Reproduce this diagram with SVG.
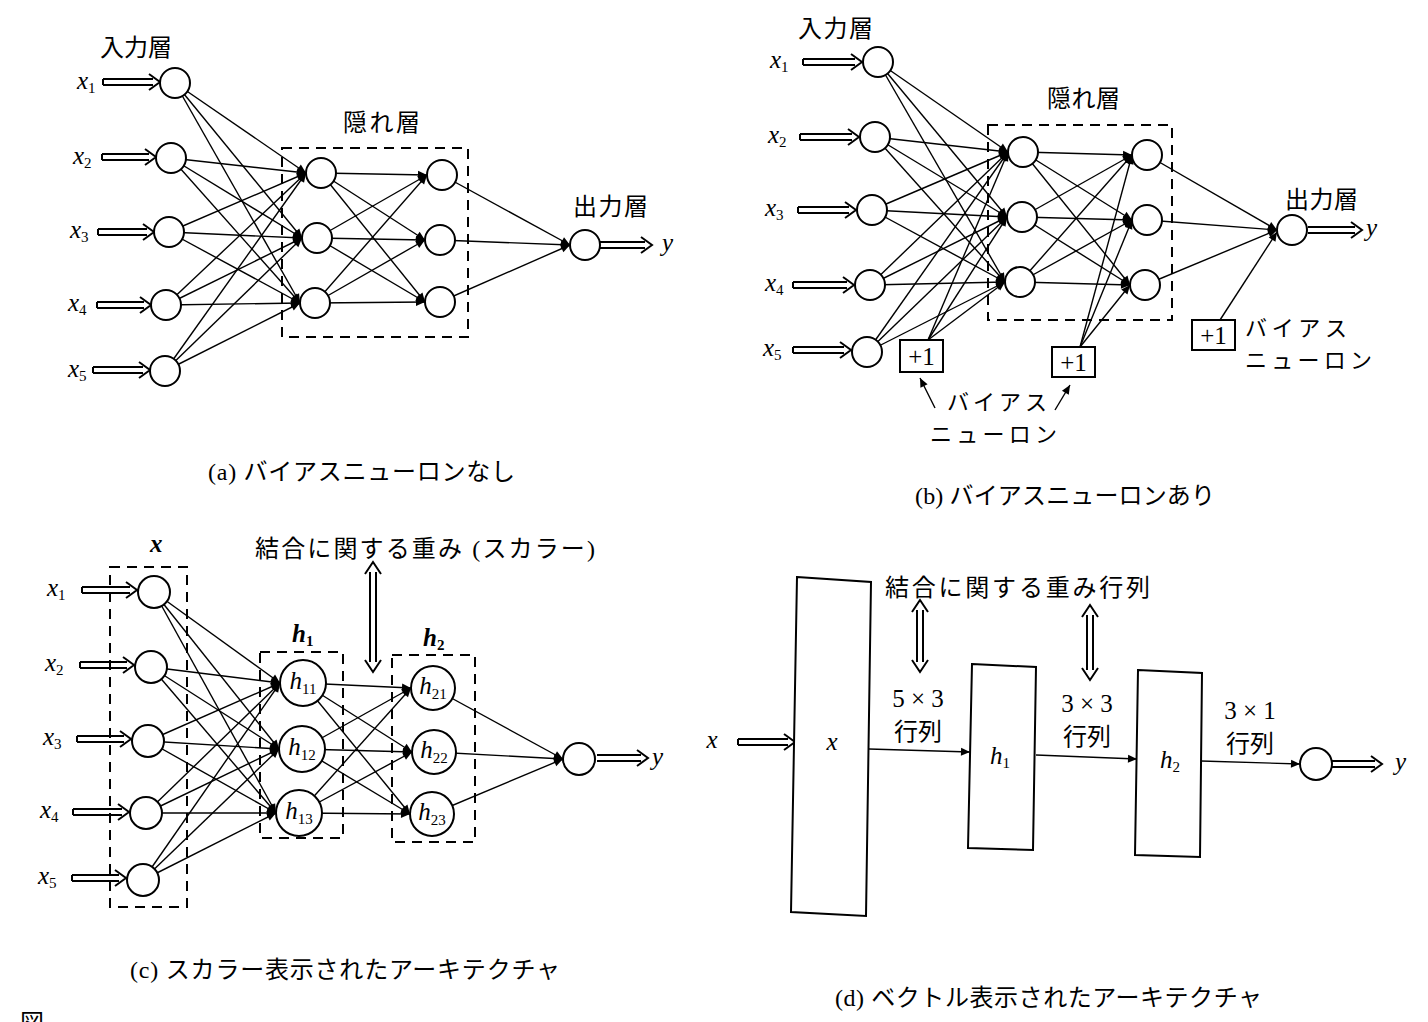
<svg xmlns="http://www.w3.org/2000/svg" width="1428" height="1022" viewBox="0 0 1428 1022">
<defs>
<marker id="ah" markerUnits="userSpaceOnUse" markerWidth="10" markerHeight="8" refX="9" refY="4" orient="auto" overflow="visible"><path d="M0,0 L9,4 L0,8 z" fill="#000"/></marker>
</defs>
<style>
.n{fill:#fff;stroke:#000;stroke-width:2}
.c{stroke:#000;stroke-width:1.4;fill:none;marker-end:url(#ah)}
.dash{fill:none;stroke:#000;stroke-width:2;stroke-dasharray:10 7}
.dbl{fill:none;stroke:#000;stroke-width:2}
.box{fill:#fff;stroke:#000;stroke-width:2}
.jp{font-family:"Noto Sans CJK JP",sans-serif;font-size:24px;fill:#000}
.js{font-family:"Noto Sans CJK JP",sans-serif;font-size:22px;fill:#000}
.m{font-family:"Liberation Serif",serif;font-style:italic;font-size:25px;fill:#000}
.mb{font-family:"Liberation Serif",serif;font-style:italic;font-weight:bold;font-size:25px;fill:#000}
.sub{font-style:normal;font-size:15px}
.num{font-family:"Liberation Serif",serif;font-size:25px;fill:#000}
.cap{font-family:"Liberation Serif","Noto Sans CJK JP",serif;font-size:24px;fill:#000}
</style>
<rect width="1428" height="1022" fill="#fff"/>

<g id="connectors">
<line class="c" x1="175" y1="83" x2="306" y2="173"/><line class="c" x1="175" y1="83" x2="302" y2="238"/><line class="c" x1="175" y1="83" x2="300" y2="303"/>
<line class="c" x1="171" y1="158" x2="306" y2="173"/><line class="c" x1="171" y1="158" x2="302" y2="238"/><line class="c" x1="171" y1="158" x2="300" y2="303"/>
<line class="c" x1="169" y1="232" x2="306" y2="173"/><line class="c" x1="169" y1="232" x2="302" y2="238"/><line class="c" x1="169" y1="232" x2="300" y2="303"/>
<line class="c" x1="166" y1="305" x2="306" y2="173"/><line class="c" x1="166" y1="305" x2="302" y2="238"/><line class="c" x1="166" y1="305" x2="300" y2="303"/>
<line class="c" x1="165" y1="371" x2="306" y2="173"/><line class="c" x1="165" y1="371" x2="302" y2="238"/><line class="c" x1="165" y1="371" x2="300" y2="303"/>
<line class="c" x1="321" y1="173" x2="427" y2="175"/><line class="c" x1="321" y1="173" x2="425" y2="240"/><line class="c" x1="321" y1="173" x2="425" y2="302"/>
<line class="c" x1="317" y1="238" x2="427" y2="175"/><line class="c" x1="317" y1="238" x2="425" y2="240"/><line class="c" x1="317" y1="238" x2="425" y2="302"/>
<line class="c" x1="315" y1="303" x2="427" y2="175"/><line class="c" x1="315" y1="303" x2="425" y2="240"/><line class="c" x1="315" y1="303" x2="425" y2="302"/>
<line class="c" x1="442" y1="175" x2="570" y2="245"/><line class="c" x1="440" y1="240" x2="570" y2="245"/><line class="c" x1="440" y1="302" x2="570" y2="245"/>
<line class="c" x1="878" y1="62" x2="1008" y2="152"/><line class="c" x1="878" y1="62" x2="1007" y2="217"/><line class="c" x1="878" y1="62" x2="1005" y2="282"/>
<line class="c" x1="875" y1="137" x2="1008" y2="152"/><line class="c" x1="875" y1="137" x2="1007" y2="217"/><line class="c" x1="875" y1="137" x2="1005" y2="282"/>
<line class="c" x1="872" y1="210" x2="1008" y2="152"/><line class="c" x1="872" y1="210" x2="1007" y2="217"/><line class="c" x1="872" y1="210" x2="1005" y2="282"/>
<line class="c" x1="870" y1="285" x2="1008" y2="152"/><line class="c" x1="870" y1="285" x2="1007" y2="217"/><line class="c" x1="870" y1="285" x2="1005" y2="282"/>
<line class="c" x1="867" y1="352" x2="1008" y2="152"/><line class="c" x1="867" y1="352" x2="1007" y2="217"/><line class="c" x1="867" y1="352" x2="1005" y2="282"/>
<line class="c" x1="928" y1="340" x2="1008" y2="152"/><line class="c" x1="928" y1="340" x2="1007" y2="217"/><line class="c" x1="928" y1="340" x2="1005" y2="282"/>
<line class="c" x1="1023" y1="152" x2="1132" y2="155"/><line class="c" x1="1023" y1="152" x2="1132" y2="220"/><line class="c" x1="1023" y1="152" x2="1130" y2="285"/>
<line class="c" x1="1022" y1="217" x2="1132" y2="155"/><line class="c" x1="1022" y1="217" x2="1132" y2="220"/><line class="c" x1="1022" y1="217" x2="1130" y2="285"/>
<line class="c" x1="1020" y1="282" x2="1132" y2="155"/><line class="c" x1="1020" y1="282" x2="1132" y2="220"/><line class="c" x1="1020" y1="282" x2="1130" y2="285"/>
<line class="c" x1="1080" y1="347" x2="1132" y2="155"/><line class="c" x1="1080" y1="347" x2="1132" y2="220"/><line class="c" x1="1080" y1="347" x2="1130" y2="285"/>
<line class="c" x1="1147" y1="155" x2="1277" y2="230"/><line class="c" x1="1147" y1="220" x2="1277" y2="230"/><line class="c" x1="1145" y1="285" x2="1277" y2="230"/>
<line class="c" x1="1220" y1="320" x2="1277" y2="232"/>
<line class="c" x1="935" y1="408" x2="920" y2="378"/><line class="c" x1="1055" y1="410" x2="1070" y2="385"/>
<line class="c" x1="154" y1="592" x2="280" y2="683"/><line class="c" x1="154" y1="592" x2="279" y2="749"/><line class="c" x1="154" y1="592" x2="276" y2="813"/>
<line class="c" x1="151" y1="667" x2="280" y2="683"/><line class="c" x1="151" y1="667" x2="279" y2="749"/><line class="c" x1="151" y1="667" x2="276" y2="813"/>
<line class="c" x1="148" y1="741" x2="280" y2="683"/><line class="c" x1="148" y1="741" x2="279" y2="749"/><line class="c" x1="148" y1="741" x2="276" y2="813"/>
<line class="c" x1="146" y1="813" x2="280" y2="683"/><line class="c" x1="146" y1="813" x2="279" y2="749"/><line class="c" x1="146" y1="813" x2="276" y2="813"/>
<line class="c" x1="143" y1="880" x2="280" y2="683"/><line class="c" x1="143" y1="880" x2="279" y2="749"/><line class="c" x1="143" y1="880" x2="276" y2="813"/>
<line class="c" x1="303" y1="683" x2="411" y2="688"/><line class="c" x1="303" y1="683" x2="412" y2="752"/><line class="c" x1="303" y1="683" x2="410" y2="814"/>
<line class="c" x1="302" y1="749" x2="411" y2="688"/><line class="c" x1="302" y1="749" x2="412" y2="752"/><line class="c" x1="302" y1="749" x2="410" y2="814"/>
<line class="c" x1="299" y1="813" x2="411" y2="688"/><line class="c" x1="299" y1="813" x2="412" y2="752"/><line class="c" x1="299" y1="813" x2="410" y2="814"/>
<line class="c" x1="433" y1="688" x2="563" y2="759"/><line class="c" x1="434" y1="752" x2="563" y2="759"/><line class="c" x1="432" y1="814" x2="563" y2="759"/>
<line class="c" x1="869" y1="749" x2="970" y2="752"/>
<line class="c" x1="1036" y1="755" x2="1137" y2="759"/>
<line class="c" x1="1201" y1="761" x2="1300" y2="764"/>
<path class="dbl" d="M103,79H153M103,85H153M103,79V85M149,74L160,82L149,90"/>
<path class="dbl" d="M102,154H149M102,160H149M102,154V160M145,149L156,157L145,165"/>
<path class="dbl" d="M98,229H147M98,235H147M98,229V235M143,224L154,232L143,240"/>
<path class="dbl" d="M97,302H144M97,308H144M97,302V308M140,297L151,305L140,313"/>
<path class="dbl" d="M93,367H143M93,373H143M93,367V373M139,362L150,370L139,378"/>
<path class="dbl" d="M600,242H645M600,248H645M641,237L652,245L641,253"/>
<path class="dbl" d="M803,59H855M803,65H855M803,59V65M851,54L862,62L851,70"/>
<path class="dbl" d="M800,134H852M800,140H852M800,134V140M848,129L859,137L848,145"/>
<path class="dbl" d="M798,207H849M798,213H849M798,207V213M845,202L856,210L845,218"/>
<path class="dbl" d="M793,282H847M793,288H847M793,282V288M843,277L854,285L843,293"/>
<path class="dbl" d="M793,347H844M793,353H844M793,347V353M840,342L851,350L840,358"/>
<path class="dbl" d="M1308,227H1355M1308,233H1355M1351,222L1362,230L1351,238"/>
<path class="dbl" d="M82,587H130M82,593H130M82,587V593M126,582L137,590L126,598"/>
<path class="dbl" d="M80,662H127M80,668H127M80,662V668M123,657L134,665L123,673"/>
<path class="dbl" d="M77,736H124M77,742H124M77,736V742M120,731L131,739L120,747"/>
<path class="dbl" d="M73,809H122M73,815H122M73,809V815M118,804L129,812L118,820"/>
<path class="dbl" d="M72,875H119M72,881H119M72,875V881M115,870L126,878L115,886"/>
<path class="dbl" d="M597,755H641M597,761H641M637,750L648,758L637,766"/>
<path class="dbl" d="M738,739H788M738,745H788M738,739V745M784,734L795,742L784,750"/>
<path class="dbl" d="M1332,761H1375M1332,767H1375M1371,756L1382,764L1371,772"/>
<path class="dbl" d="M370,572V662M376,572V662M365,574L373,562L381,574M365,660L373,672L381,660"/>
<path class="dbl" d="M917,610V662M923,610V662M912,612L920,600L928,612M912,660L920,672L928,660"/>
<path class="dbl" d="M1087,615V670M1093,615V670M1082,617L1090,605L1098,617M1082,668L1090,680L1098,668"/>
</g>

<g id="panel-a">
<rect class="dash" x="282" y="148" width="186" height="189"/>
<g id="a-in1"><circle class="n" cx="175" cy="83" r="15"/><text class="m" x="77" y="89">x<tspan class="sub" dy="4">1</tspan></text></g>
<g id="a-in2"><circle class="n" cx="171" cy="158" r="15"/><text class="m" x="73" y="164">x<tspan class="sub" dy="4">2</tspan></text></g>
<g id="a-in3"><circle class="n" cx="169" cy="232" r="15"/><text class="m" x="70" y="238">x<tspan class="sub" dy="4">3</tspan></text></g>
<g id="a-in4"><circle class="n" cx="166" cy="305" r="15"/><text class="m" x="68" y="311">x<tspan class="sub" dy="4">4</tspan></text></g>
<g id="a-in5"><circle class="n" cx="165" cy="371" r="15"/><text class="m" x="68" y="377">x<tspan class="sub" dy="4">5</tspan></text></g>
<g id="a-h11"><circle class="n" cx="321" cy="173" r="15"/></g>
<g id="a-h12"><circle class="n" cx="317" cy="238" r="15"/></g>
<g id="a-h13"><circle class="n" cx="315" cy="303" r="15"/></g>
<g id="a-h21"><circle class="n" cx="442" cy="175" r="15"/></g>
<g id="a-h22"><circle class="n" cx="440" cy="240" r="15"/></g>
<g id="a-h23"><circle class="n" cx="440" cy="302" r="15"/></g>
<g id="a-out"><circle class="n" cx="585" cy="245" r="15"/><text class="m" x="662" y="251">y</text></g>
<text class="jp" x="100" y="56" textLength="72">入力層</text>
<text class="jp" x="343" y="131" textLength="77">隠れ層</text>
<text class="jp" x="573" y="215" textLength="75">出力層</text>
<text class="cap" x="208" y="480" textLength="307">(a) バイアスニューロンなし</text>
</g>

<g id="panel-b">
<rect class="dash" x="988" y="125" width="184" height="195"/>
<g id="b-in1"><circle class="n" cx="878" cy="62" r="15"/><text class="m" x="770" y="68">x<tspan class="sub" dy="4">1</tspan></text></g>
<g id="b-in2"><circle class="n" cx="875" cy="137" r="15"/><text class="m" x="768" y="143">x<tspan class="sub" dy="4">2</tspan></text></g>
<g id="b-in3"><circle class="n" cx="872" cy="210" r="15"/><text class="m" x="765" y="216">x<tspan class="sub" dy="4">3</tspan></text></g>
<g id="b-in4"><circle class="n" cx="870" cy="285" r="15"/><text class="m" x="765" y="291">x<tspan class="sub" dy="4">4</tspan></text></g>
<g id="b-in5"><circle class="n" cx="867" cy="352" r="15"/><text class="m" x="763" y="356">x<tspan class="sub" dy="4">5</tspan></text></g>
<g id="b-h11"><circle class="n" cx="1023" cy="152" r="15"/></g>
<g id="b-h12"><circle class="n" cx="1022" cy="217" r="15"/></g>
<g id="b-h13"><circle class="n" cx="1020" cy="282" r="15"/></g>
<g id="b-h21"><circle class="n" cx="1147" cy="155" r="15"/></g>
<g id="b-h22"><circle class="n" cx="1147" cy="220" r="15"/></g>
<g id="b-h23"><circle class="n" cx="1145" cy="285" r="15"/></g>
<g id="b-out"><circle class="n" cx="1292" cy="230" r="15"/><text class="m" x="1366" y="236">y</text></g>
<g id="b-bias1"><rect class="box" x="900" y="340" width="43" height="32"/><text class="num" x="921.5" y="365" text-anchor="middle">+1</text></g>
<g id="b-bias2"><rect class="box" x="1052" y="347" width="43" height="30"/><text class="num" x="1073.5" y="371" text-anchor="middle">+1</text></g>
<g id="b-bias3"><rect class="box" x="1192" y="320" width="43" height="30"/><text class="num" x="1213.5" y="344" text-anchor="middle">+1</text></g>
<text class="jp" x="798" y="37" textLength="75">入力層</text>
<text class="jp" x="1047" y="107" textLength="73">隠れ層</text>
<text class="jp" x="1285" y="208" textLength="73">出力層</text>
<text class="js" x="1245" y="336" textLength="102">バイアス</text>
<text class="js" x="1245" y="368" textLength="127">ニューロン</text>
<text class="js" x="947" y="410" textLength="100">バイアス</text>
<text class="js" x="930" y="442" textLength="127">ニューロン</text>
<text class="cap" x="915" y="504" textLength="300">(b) バイアスニューロンあり</text>
</g>

<g id="panel-c">
<rect class="dash" x="110" y="567" width="77" height="340"/>
<rect class="dash" x="260" y="652" width="83" height="186"/>
<rect class="dash" x="392" y="655" width="83" height="187"/>
<g id="c-in1"><circle class="n" cx="154" cy="592" r="16"/><text class="m" x="47" y="596">x<tspan class="sub" dy="4">1</tspan></text></g>
<g id="c-in2"><circle class="n" cx="151" cy="667" r="16"/><text class="m" x="45" y="671">x<tspan class="sub" dy="4">2</tspan></text></g>
<g id="c-in3"><circle class="n" cx="148" cy="741" r="16"/><text class="m" x="43" y="745">x<tspan class="sub" dy="4">3</tspan></text></g>
<g id="c-in4"><circle class="n" cx="146" cy="813" r="16"/><text class="m" x="40" y="818">x<tspan class="sub" dy="4">4</tspan></text></g>
<g id="c-in5"><circle class="n" cx="143" cy="880" r="16"/><text class="m" x="38" y="884">x<tspan class="sub" dy="4">5</tspan></text></g>
<g id="c-h11"><circle class="n" cx="303" cy="683" r="23"/><text class="m" x="303" y="689" text-anchor="middle">h<tspan class="sub" dy="5">11</tspan></text></g>
<g id="c-h12"><circle class="n" cx="302" cy="749" r="23"/><text class="m" x="302" y="755" text-anchor="middle">h<tspan class="sub" dy="5">12</tspan></text></g>
<g id="c-h13"><circle class="n" cx="299" cy="813" r="23"/><text class="m" x="299" y="819" text-anchor="middle">h<tspan class="sub" dy="5">13</tspan></text></g>
<g id="c-h21"><circle class="n" cx="433" cy="688" r="22"/><text class="m" x="433" y="694" text-anchor="middle">h<tspan class="sub" dy="5">21</tspan></text></g>
<g id="c-h22"><circle class="n" cx="434" cy="752" r="22"/><text class="m" x="434" y="758" text-anchor="middle">h<tspan class="sub" dy="5">22</tspan></text></g>
<g id="c-h23"><circle class="n" cx="432" cy="814" r="22"/><text class="m" x="432" y="820" text-anchor="middle">h<tspan class="sub" dy="5">23</tspan></text></g>
<g id="c-out"><circle class="n" cx="579" cy="759" r="16"/><text class="m" x="652" y="765">y</text></g>
<text class="mb" x="150" y="552">x</text>
<text class="mb" x="292" y="642">h<tspan class="sub" dy="4">1</tspan></text>
<text class="mb" x="423" y="646">h<tspan class="sub" dy="4">2</tspan></text>
<text class="cap" x="255" y="557" textLength="340">結合に関する重み (スカラー)</text>
<text class="cap" x="130" y="978" textLength="430">(c) スカラー表示されたアーキテクチャ</text>
</g>

<g id="panel-d">
<g id="d-x"><polygon class="box" points="797,577 871,582 866,916 791,912"/><text class="m" x="832" y="750" text-anchor="middle">x</text></g>
<g id="d-h1"><polygon class="box" points="972,664 1036,667 1033,850 968,848"/><text class="m" x="1000" y="764" text-anchor="middle">h<tspan class="sub" dy="4">1</tspan></text></g>
<g id="d-h2"><polygon class="box" points="1138,670 1202,673 1200,857 1135,855"/><text class="m" x="1170" y="768" text-anchor="middle">h<tspan class="sub" dy="4">2</tspan></text></g>
<g id="d-out"><circle class="n" cx="1316" cy="764" r="16"/><text class="m" x="1395" y="770">y</text></g>
<text class="m" x="712" y="748" text-anchor="middle">x</text>
<text class="num" x="918" y="707" text-anchor="middle">5 × 3</text>
<text class="jp" x="918" y="740" text-anchor="middle">行列</text>
<text class="num" x="1087" y="712" text-anchor="middle">3 × 3</text>
<text class="jp" x="1087" y="745" text-anchor="middle">行列</text>
<text class="num" x="1250" y="719" text-anchor="middle">3 × 1</text>
<text class="jp" x="1250" y="752" text-anchor="middle">行列</text>
<text class="jp" x="885" y="596" textLength="265">結合に関する重み行列</text>
<text class="cap" x="835" y="1006" textLength="427">(d) ベクトル表示されたアーキテクチャ</text>
</g>
<text class="jp" x="20" y="1031">図</text>
</svg>
